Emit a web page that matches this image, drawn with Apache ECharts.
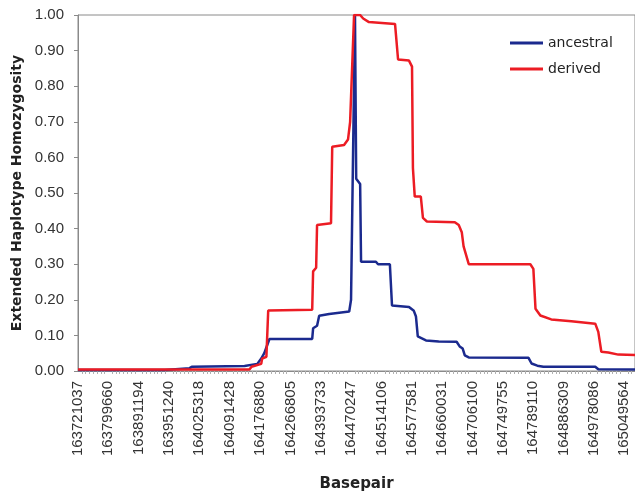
<!DOCTYPE html>
<html>
<head>
<meta charset="utf-8">
<script src="https://cdn.jsdelivr.net/npm/echarts@6/dist/echarts.min.js"></script>
<style>
  html, body { margin: 0; padding: 0; background: #fff; }
  #chart { width: 635px; height: 497px; }
</style>
</head>
<body>
<div id="chart"></div>
<script>
// tick labels (basepair positions), one per label slot on the x axis
var tickLabels = ['163721037', '163799660', '163891194', '163951240', '164025318', '164091428',
  '164176880', '164266805', '164393733', '164470247', '164514106', '164577581', '164660031',
  '164706100', '164749755', '164789110', '164886309', '164978086', '165049564']

// x position in label slots
var ancestralX = [0, 2.86, 2.89, 3.68, 3.75, 5.49, 5.55, 5.91, 6.04, 6.14, 6.31, 7.72, 7.75, 7.88, 7.95,
  8.28, 8.94, 9.0, 9.13, 9.17, 9.3, 9.33, 9.82, 9.89, 10.28, 10.35, 10.91, 11.07, 11.14, 11.2, 11.47,
  11.89, 12.48, 12.58, 12.68, 12.75, 12.88, 14.85, 14.95, 15.14, 15.34, 17.05, 17.15, 18.4]
var ancestralY = [0.003, 0.003, 0.008, 0.008, 0.012, 0.014, 0.018, 0.02, 0.035, 0.05, 0.09, 0.09, 0.12, 0.127, 0.155,
  0.16, 0.167, 0.2, 1.0, 0.54, 0.525, 0.307, 0.307, 0.3, 0.3, 0.184, 0.18, 0.169, 0.153, 0.097, 0.086,
  0.083, 0.082, 0.069, 0.063, 0.044, 0.038, 0.037, 0.021, 0.015, 0.012, 0.012, 0.005, 0.004]

var derivedX = [0, 5.65, 5.72, 6.04, 6.07, 6.21, 6.27, 7.72, 7.75, 7.85, 7.88, 8.34, 8.38, 8.77, 8.9,
  8.97, 9.1, 9.3, 9.4, 9.59, 10.45, 10.55, 10.91, 11.01, 11.04, 11.1, 11.3, 11.37, 11.5, 12.42, 12.55,
  12.65, 12.71, 12.88, 14.91, 15.01, 15.08, 15.24, 15.6, 16.26, 17.05, 17.15, 17.25, 17.48, 17.81, 18.4]
var derivedY = [0.004, 0.004, 0.012, 0.02, 0.035, 0.04, 0.17, 0.172, 0.28, 0.29, 0.41, 0.415, 0.63, 0.635, 0.65,
  0.7, 1.0, 1.0, 0.99, 0.98, 0.975, 0.875, 0.872, 0.855, 0.57, 0.49, 0.49, 0.43, 0.42, 0.418, 0.41,
  0.39, 0.35, 0.3, 0.3, 0.287, 0.175, 0.156, 0.145, 0.14, 0.133, 0.11, 0.054, 0.052, 0.046, 0.045]

function pairs(xs, ys) {
  return xs.map(function (x, i) { return [x, ys[i]] })
}

var chart = echarts.init(document.getElementById('chart'))

chart.setOption({
  animation: false,
  backgroundColor: '#fff',
  grid: {
    left: 78,
    right: -2,
    top: 15,
    bottom: 125,
    show: true,
    borderColor: '#8a8a8a',
    borderWidth: 1
  },
  legend: {
    orient: 'vertical',
    left: 510,
    top: 36,
    padding: 0,
    itemWidth: 33,
    itemHeight: 3,
    itemGap: 12,
    icon: 'rect',
    textStyle: {
      fontFamily: 'DejaVu Sans',
      fontSize: 14,
      color: '#222'
    },
    data: ['ancestral', 'derived']
  },
  xAxis: {
    type: 'value',
    min: 0,
    max: 18.36,
    interval: 1,
    name: 'Basepair',
    nameLocation: 'middle',
    nameGap: 106,
    nameTextStyle: {
      fontFamily: 'DejaVu Sans',
      fontWeight: 'bold',
      fontSize: 15,
      color: '#222'
    },
    axisLine: { lineStyle: { color: '#8a8a8a', width: 1 } },
    axisTick: { show: false },
    minorTick: { show: true, splitNumber: 8, length: 3, lineStyle: { color: '#b0b0b0' } },
    splitLine: { show: false },
    axisLabel: {
      rotate: 90,
      margin: 10,
      fontFamily: 'Liberation Sans',
      fontSize: 15,
      color: '#333',
      showMaxLabel: false,
      formatter: function (v) {
        var i = Math.round(v)
        return Math.abs(v - i) < 1e-6 && tickLabels[i] ? tickLabels[i] : ''
      }
    }
  },
  yAxis: {
    type: 'value',
    min: 0,
    max: 1,
    interval: 0.1,
    name: 'Extended Haplotype Homozygosity',
    nameLocation: 'middle',
    nameGap: 54,
    nameTextStyle: {
      fontFamily: 'DejaVu Sans',
      fontWeight: 'bold',
      fontSize: 14,
      color: '#222'
    },
    axisLine: { show: true, lineStyle: { color: '#8a8a8a', width: 1 } },
    axisTick: { show: true, length: 4, lineStyle: { color: '#8a8a8a' } },
    splitLine: { show: false },
    axisLabel: {
      margin: 14,
      fontFamily: 'Liberation Sans',
      fontSize: 15,
      color: '#333',
      formatter: function (v) { return v.toFixed(2) }
    }
  },
  series: [
    {
      name: 'ancestral',
      type: 'line',
      symbol: 'none',
      color: '#1b2a8e',
      lineStyle: { width: 2.5, color: '#1b2a8e' },
      data: pairs(ancestralX, ancestralY)
    },
    {
      name: 'derived',
      type: 'line',
      symbol: 'none',
      color: '#ec1c24',
      lineStyle: { width: 2.5, color: '#ec1c24' },
      data: pairs(derivedX, derivedY)
    }
  ]
})
</script>
</body>
</html>
